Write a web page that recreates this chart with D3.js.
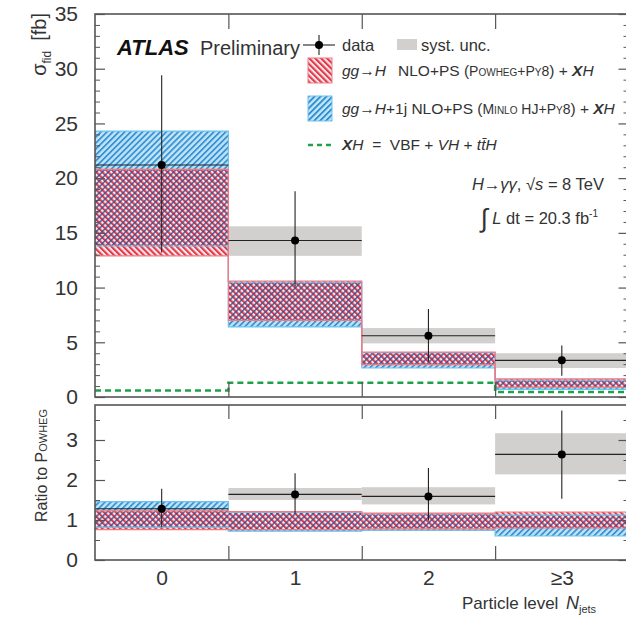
<!DOCTYPE html>
<html>
<head>
<meta charset="utf-8">
<script src="https://cdn.jsdelivr.net/npm/d3@7"></script>
<style>
  html, body { margin: 0; padding: 0; background: #fff; }
  svg { display: block; font-family: "Liberation Sans", Arial, Helvetica, sans-serif; }
  .sc { font-variant: small-caps; }
</style>
</head>
<body>
<svg id="chart" width="626" height="619"></svg>
<script>
// ---------------- data ----------------
const bins = ["0", "1", "2", "\u22653"];
const dataVal = [21.2, 14.3, 5.6, 3.35];
const dataErrUp = [8.2, 4.5, 2.45, 1.35];
const dataErrDn = [8.0, 4.2, 2.35, 1.4];
const systLo = [20.2, 12.9, 4.9, 2.65];
const systHi = [22.2, 15.6, 6.3, 4.0];
const powhegLo = [12.9, 7.0, 2.95, 0.9];
const powhegHi = [20.8, 10.6, 4.1, 1.65];
const minloLo = [13.8, 6.4, 2.65, 0.7];
const minloHi = [24.3, 10.5, 4.05, 1.55];
const xhVal = [0.6, 1.3, 1.3, 0.45];

const ratioVal = [1.28, 1.64, 1.59, 2.64];
const ratioErrUp = [0.5, 0.53, 0.71, 1.1];
const ratioErrDn = [0.46, 0.47, 0.6, 1.11];
const ratioSystLo = [1.2, 1.5, 1.39, 2.14];
const ratioSystHi = [1.36, 1.8, 1.82, 3.17];
const ratioPowLo = [0.76, 0.76, 0.78, 0.8];
const ratioPowHi = [1.23, 1.21, 1.17, 1.2];
const ratioMinLo = [0.82, 0.72, 0.74, 0.6];
const ratioMinHi = [1.46, 1.19, 1.15, 1.12];

const yTopTicks = [0, 5, 10, 15, 20, 25, 30, 35];
const yBotTicks = [0, 1, 2, 3];

// ---------------- layout ----------------
const svg = d3.select("#chart");
const X0 = 95, X1 = 628.5;
const x = d3.scaleLinear().domain([0, 4]).range([X0, X1]);
const yTop = d3.scaleLinear().domain([0, 35]).range([397, 14]);
const yBot = d3.scaleLinear().domain([0, 3.875]).range([560, 405]);

const RED = "#e03a4c", BLUE = "#2a8ad0", NAVY = "#2f4f96", GREEN = "#1fa04a", FRAME = "#555";
const RED_EDGE = "#f07a82", BLUE_EDGE = "#6ec2ee";
const TXT = "#333";

// patterns
const defs = svg.append("defs");
function hatch(id, color, angle, w) {
  const p = defs.append("pattern").attr("id", id)
    .attr("patternUnits", "userSpaceOnUse")
    .attr("width", 4.2).attr("height", 10)
    .attr("patternTransform", `rotate(${angle})`);
  p.append("rect").attr("x", 0).attr("y", 0).attr("width", w).attr("height", 10).attr("fill", color);
}
hatch("hRed", RED, -45, 2.1);
hatch("hBlue", BLUE, 45, 1.8);
hatch("hNavy", NAVY, 45, 1.6);

["clipTop", "clipBot"].forEach((id, i) => {
  const ys = i === 0 ? yTop : yBot;
  defs.append("clipPath").attr("id", id).append("rect")
    .attr("x", X0).attr("y", ys.range()[1]).attr("width", X1 - X0).attr("height", ys.range()[0] - ys.range()[1]);
});

function drawPanel(g, y, d) {
  const idx = d3.range(bins.length);
  const band = (lo, hi, fill, op) => g.append("g").selectAll("rect").data(idx).join("rect")
      .attr("x", i => x(i)).attr("width", i => x(i + 1) - x(i))
      .attr("y", i => y(hi[i])).attr("height", i => y(lo[i]) - y(hi[i]))
      .attr("fill", fill).attr("fill-opacity", op);
  // syst boxes
  band(d.sLo, d.sHi, "#d2d0ce", 1);
  // MiNLO band: light background + stripes
  band(d.mLo, d.mHi, "#bfe4f6", 1);
  band(d.mLo, d.mHi, "url(#hBlue)", 0.9);
  // Powheg band: light pink background + stripes
  band(d.pLo, d.pHi, "#fbe8ea", 1);
  band(d.pLo, d.pHi, "url(#hRed)", 1);
  // darker blue stripes on top inside the overlap (crosshatch)
  const ovLo = d.mLo.map((v, i) => Math.max(v, d.pLo[i]));
  const ovHi = d.mHi.map((v, i) => Math.min(v, d.pHi[i]));
  band(ovLo, ovHi, "url(#hNavy)", 0.8);
  // step outlines
  const step = d3.line().x(p => x(p[0])).y(p => y(p[1])).curve(d3.curveStepAfter);
  const stepPts = arr => arr.map((v, i) => [i, v]).concat([[arr.length, arr[arr.length - 1]]]);
  [[d.mLo, BLUE_EDGE], [d.mHi, BLUE_EDGE], [d.pLo, RED_EDGE], [d.pHi, RED_EDGE]].forEach(([arr, c]) => {
    g.append("path").attr("d", step(stepPts(arr))).attr("fill", "none").attr("stroke", c).attr("stroke-width", 1.2);
  });
  if (d.xh) {
    g.append("path").attr("d", step(stepPts(d.xh))).attr("fill", "none")
      .attr("stroke", GREEN).attr("stroke-width", 2.5).attr("stroke-dasharray", "6,4");
  }
  // data
  const dg = g.append("g").attr("stroke", "#222").attr("stroke-width", 1.1);
  dg.selectAll(".hb").data(idx).join("line")
    .attr("x1", i => x(i)).attr("x2", i => x(i + 1))
    .attr("y1", i => y(d.v[i])).attr("y2", i => y(d.v[i]));
  dg.selectAll(".vb").data(idx).join("line")
    .attr("x1", i => x(i + 0.5)).attr("x2", i => x(i + 0.5))
    .attr("y1", i => y(d.v[i] + d.eu[i])).attr("y2", i => y(d.v[i] - d.ed[i]));
  g.selectAll(".pt").data(idx).join("circle")
    .attr("cx", i => x(i + 0.5)).attr("cy", i => y(d.v[i])).attr("r", 4).attr("fill", "#000");
}

const gTop = svg.append("g").attr("clip-path", "url(#clipTop)");
drawPanel(gTop, yTop, { v: dataVal, eu: dataErrUp, ed: dataErrDn, sLo: systLo, sHi: systHi,
  pLo: powhegLo, pHi: powhegHi, mLo: minloLo, mHi: minloHi, xh: xhVal });
const gBot = svg.append("g").attr("clip-path", "url(#clipBot)");
drawPanel(gBot, yBot, { v: ratioVal, eu: ratioErrUp, ed: ratioErrDn, sLo: ratioSystLo, sHi: ratioSystHi,
  pLo: ratioPowLo, pHi: ratioPowHi, mLo: ratioMinLo, mHi: ratioMinHi, xh: null });

// ---------------- axes & frames ----------------
function frame(y) {
  const [b, t] = y.range();
  svg.append("rect").attr("x", X0).attr("y", t).attr("width", X1 - X0).attr("height", b - t)
    .attr("fill", "none").attr("stroke", FRAME).attr("stroke-width", 1.6);
}
frame(yTop); frame(yBot);

function yAxes(y, major, minorStep, lenMaj, lenMin) {
  const [lo, hi] = y.domain();
  const minor = d3.range(lo, hi + 1e-9, minorStep).filter(v => !major.some(m => Math.abs(m - v) < 1e-9));
  const left = svg.append("g").attr("transform", `translate(${X0},0)`)
    .call(d3.axisLeft(y).tickValues(major).tickSize(-lenMaj).tickPadding(lenMaj + 7).tickFormat(d3.format("d")));
  left.select(".domain").remove();
  left.selectAll("line").attr("stroke", FRAME).attr("stroke-width", 1.2);
  left.selectAll("text").attr("font-size", 21).attr("fill", TXT).attr("font-family", "Liberation Sans, Arial, sans-serif");
  const lm = svg.append("g").attr("transform", `translate(${X0},0)`)
    .call(d3.axisLeft(y).tickValues(minor).tickSize(-lenMin).tickFormat(""));
  lm.select(".domain").remove();
  lm.selectAll("line").attr("stroke", FRAME).attr("stroke-width", 1);
  const right = svg.append("g").attr("transform", `translate(${X1},0)`)
    .call(d3.axisRight(y).tickValues(major).tickSize(-lenMaj).tickFormat(""));
  right.select(".domain").remove();
  right.selectAll("line").attr("stroke", FRAME).attr("stroke-width", 1.2);
  const rm = svg.append("g").attr("transform", `translate(${X1},0)`)
    .call(d3.axisRight(y).tickValues(minor).tickSize(-lenMin).tickFormat(""));
  rm.select(".domain").remove();
  rm.selectAll("line").attr("stroke", FRAME).attr("stroke-width", 1);
}
yAxes(yTop, yTopTicks, 1, 10, 5);
yAxes(yBot, yBotTicks, 0.5, 10, 5);

// x ticks at bin edges
function xTicks(y, len) {
  const [b, t] = y.range();
  const edges = [1, 2, 3];
  const ax1 = svg.append("g").attr("transform", `translate(0,${t})`)
    .call(d3.axisTop(x).tickValues(edges).tickSize(-len).tickFormat(""));
  const ax2 = svg.append("g").attr("transform", `translate(0,${b})`)
    .call(d3.axisBottom(x).tickValues(edges).tickSize(-len).tickFormat(""));
  [ax1, ax2].forEach(a => { a.select(".domain").remove(); a.selectAll("line").attr("stroke", FRAME).attr("stroke-width", 1.2); });
}
xTicks(yTop, 15);
xTicks(yBot, 14);

// x category labels
const xl = svg.append("g").attr("transform", `translate(0,560)`)
  .call(d3.axisBottom(d3.scalePoint().domain(bins).range([x(0.5), x(3.5)])).tickSize(0).tickPadding(10));
xl.select(".domain").remove();
xl.selectAll("text").attr("font-size", 21).attr("fill", TXT).attr("font-family", "Liberation Sans, Arial, sans-serif");

// ---------------- texts ----------------
// y titles
const yt = svg.append("text").attr("transform", "translate(46,13) rotate(-90)")
  .attr("text-anchor", "end").attr("font-size", 20).attr("fill", TXT);
yt.append("tspan").text("\u03c3");
yt.append("tspan").attr("font-size", 12).attr("dy", 5).text("fid");
yt.append("tspan").attr("dy", -5).attr("xml:space", "preserve").text("\u2002[fb]");

const yr = svg.append("text").attr("transform", "translate(47,409) rotate(-90)")
  .attr("text-anchor", "end").attr("font-size", 16).attr("fill", TXT);
yr.append("tspan").text("Ratio to ");
yr.append("tspan").attr("class", "sc").text("Powheg");

// x title
const xt = svg.append("text").attr("x", 462).attr("y", 609).attr("font-size", 17).attr("fill", TXT);
xt.append("tspan").text("Particle level");
xt.append("tspan").attr("x", 566).attr("font-style", "italic").attr("font-size", 18).text("N");
xt.append("tspan").attr("font-size", 11).attr("dy", 4).text("jets");

// ATLAS Preliminary
svg.append("text").attr("x", 117).attr("y", 55).attr("font-size", 22).attr("font-weight", "bold")
  .attr("font-style", "italic").attr("fill", "#111").text("ATLAS");
svg.append("text").attr("x", 200).attr("y", 55).attr("font-size", 20).attr("fill", TXT).text("Preliminary");

// legend
const lg = svg.append("g");
lg.append("line").attr("x1", 303).attr("x2", 335).attr("y1", 45).attr("y2", 45).attr("stroke", "#222").attr("stroke-width", 1.1);
lg.append("line").attr("x1", 319).attr("x2", 319).attr("y1", 35).attr("y2", 55).attr("stroke", "#222").attr("stroke-width", 1.1);
lg.append("circle").attr("cx", 319).attr("cy", 45).attr("r", 4).attr("fill", "#000");
lg.append("text").attr("x", 342).attr("y", 51).attr("font-size", 16.5).attr("fill", TXT).text("data");
lg.append("rect").attr("x", 397).attr("y", 39).attr("width", 20).attr("height", 11).attr("fill", "#d2d0ce");
lg.append("text").attr("x", 421).attr("y", 51).attr("font-size", 16.5).attr("fill", TXT).text("syst. unc.");

lg.append("rect").attr("x", 308).attr("y", 58).attr("width", 24).attr("height", 25).attr("fill", "#fbe8ea");
lg.append("rect").attr("x", 308).attr("y", 58).attr("width", 24).attr("height", 25).attr("fill", "url(#hRed)").attr("stroke", RED_EDGE);
lg.append("rect").attr("x", 308).attr("y", 96).attr("width", 24).attr("height", 25).attr("fill", "#bfe4f6");
lg.append("rect").attr("x", 308).attr("y", 96).attr("width", 24).attr("height", 25).attr("fill", "url(#hBlue)").attr("stroke", BLUE_EDGE);
lg.append("line").attr("x1", 308).attr("x2", 334).attr("y1", 145).attr("y2", 145)
  .attr("stroke", GREEN).attr("stroke-width", 2.5).attr("stroke-dasharray", "5,4");

const FS = 15.5;
const t2 = lg.append("text").attr("x", 342).attr("y", 76).attr("font-size", FS).attr("fill", TXT);
t2.append("tspan").attr("font-style", "italic").text("gg");
t2.append("tspan").text("\u2192");
t2.append("tspan").attr("font-style", "italic").text("H");
t2.append("tspan").attr("xml:space", "preserve").text("\u2002 NLO+PS (");
t2.append("tspan").attr("class", "sc").attr("font-size", 14).text("Powheg+Py8");
t2.append("tspan").text(") + ");
t2.append("tspan").attr("font-style", "italic").attr("font-weight", "bold").text("X");
t2.append("tspan").attr("font-style", "italic").text("H");

const t3 = lg.append("text").attr("x", 342).attr("y", 114).attr("font-size", FS).attr("fill", TXT);
t3.append("tspan").attr("font-style", "italic").text("gg");
t3.append("tspan").text("\u2192");
t3.append("tspan").attr("font-style", "italic").text("H");
t3.append("tspan").text("+1j NLO+PS (");
t3.append("tspan").attr("class", "sc").attr("font-size", 14).text("Minlo HJ+Py8");
t3.append("tspan").text(") + ");
t3.append("tspan").attr("font-style", "italic").attr("font-weight", "bold").text("X");
t3.append("tspan").attr("font-style", "italic").text("H");

const t4 = lg.append("text").attr("x", 342).attr("y", 150).attr("font-size", FS).attr("fill", TXT)
  .attr("xml:space", "preserve").style("white-space", "pre");
t4.append("tspan").attr("font-style", "italic").attr("font-weight", "bold").text("X");
t4.append("tspan").attr("font-style", "italic").text("H");
t4.append("tspan").text("  =  VBF + ");
t4.append("tspan").attr("font-style", "italic").text("VH");
t4.append("tspan").text(" + ");
t4.append("tspan").attr("font-style", "italic").text("t\u0074\u0304H");

// energy / lumi
const e1 = svg.append("text").attr("x", 604).attr("y", 190).attr("text-anchor", "end").attr("font-size", 16.5).attr("fill", TXT);
e1.append("tspan").attr("font-style", "italic").text("H");
e1.append("tspan").text("\u2192");
e1.append("tspan").attr("font-style", "italic").text("\u03b3\u03b3");
e1.append("tspan").text(", \u221a");
e1.append("tspan").attr("font-style", "italic").text("s");
e1.append("tspan").text(" = 8 TeV");

const e2 = svg.append("text").attr("x", 598).attr("y", 224).attr("text-anchor", "end").attr("font-size", 16.5).attr("fill", TXT);
e2.append("tspan").attr("font-size", 26).attr("dy", 3).text("\u222b");
e2.append("tspan").attr("dy", -3).attr("font-style", "italic").text(" L");
e2.append("tspan").text(" dt = 20.3 fb");
e2.append("tspan").attr("font-size", 10).attr("dy", -7).text("-1");
</script>
</body>
</html>
